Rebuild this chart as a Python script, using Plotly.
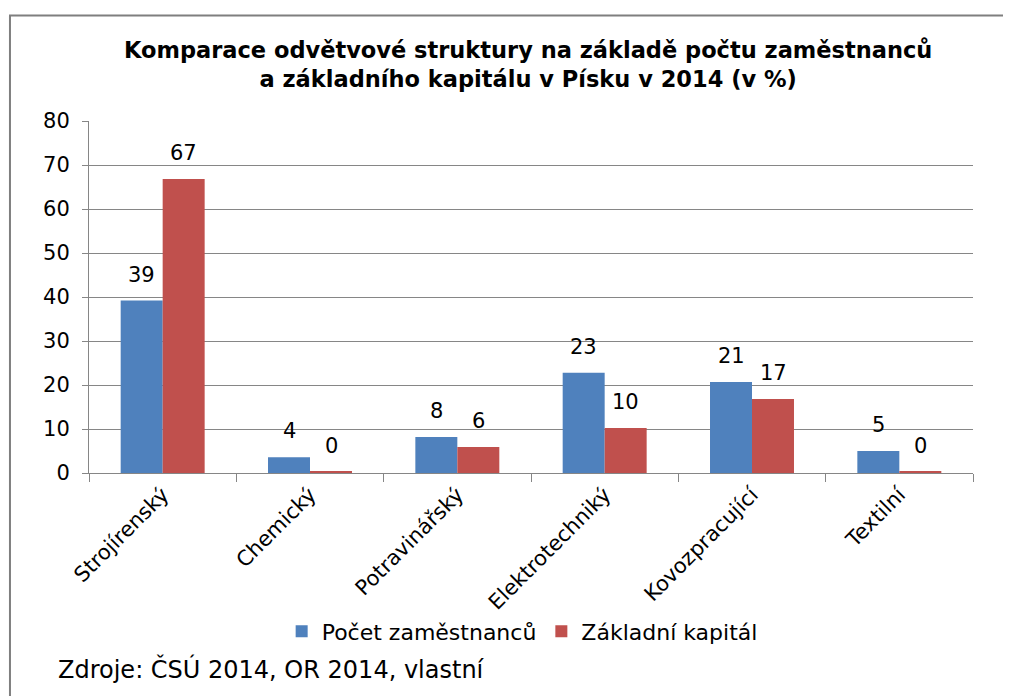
import plotly.graph_objects as go

categories = ["Strojírenský", "Chemický", "Potravinářský", "Elektrotechniký", "Kovozpracující", "Textilní"]
pocet_zamestnancu = [39.2, 3.6, 8.2, 22.8, 20.7, 5.0]
zakladni_kapital = [66.8, 0.3, 5.9, 10.2, 16.8, 0.3]
y_ticks = [0, 10, 20, 30, 40, 50, 60, 70, 80]

BLUE = "#4F81BD"
RED = "#C0504D"
TXT = "#000000"
FONT = "DejaVu Sans"

fig = go.Figure()
fig.add_trace(go.Bar(name="Počet zaměstnanců", x=categories, y=pocet_zamestnancu,
                     marker=dict(color=BLUE, line=dict(width=0))))
fig.add_trace(go.Bar(name="Základní kapitál", x=categories, y=zakladni_kapital,
                     marker=dict(color=RED, line=dict(width=0))))

annotations = []
for i, c in enumerate(categories):
    for vals, xs in ((pocet_zamestnancu, -21), (zakladni_kapital, 21)):
        annotations.append(dict(x=c, y=vals[i], xref="x", yref="y", text=f"{vals[i]:.0f}",
                                showarrow=False, xshift=xs, yshift=12, yanchor="bottom",
                                font=dict(family=FONT, size=21, color=TXT)))

annotations.append(dict(xref="paper", yref="paper", x=0.497, y=1.16, xanchor="center", yanchor="middle",
                        text="<b>Komparace odvětvové struktury na základě počtu zaměstnanců<br>a základního kapitálu v Písku v 2014 (v %)</b>",
                        showarrow=False, font=dict(family=FONT, size=22.5, color=TXT)))
annotations.append(dict(xref="paper", yref="paper", x=-0.0373, y=-0.558, xanchor="left", yanchor="middle",
                        text="Zdroje: ČSÚ 2014, OR 2014, vlastní", showarrow=False,
                        font=dict(family=FONT, size=24, color=TXT)))

fig.update_layout(
    width=1011, height=696,
    margin=dict(l=81, r=46, t=113, b=231),
    paper_bgcolor="white", plot_bgcolor="white",
    barmode="group", bargap=0.43, bargroupgap=0,
    legend=dict(orientation="h", x=0.49, xanchor="center", y=-0.45, yanchor="middle",
                font=dict(family=FONT, size=22, color=TXT), itemclick=False,
                bgcolor="rgba(0,0,0,0)", traceorder="normal", itemwidth=30),
    showlegend=True,
    annotations=annotations,
    shapes=[dict(type="rect", xref="paper", yref="paper", x0=-0.0894, x1=1.2, y0=-0.7, y1=1.30,
                 line=dict(color="#7F7F7F", width=2), fillcolor="rgba(0,0,0,0)", layer="below")],
)
fig.update_xaxes(showline=True, linecolor="#868686", linewidth=1, ticks="outside", tickson="boundaries",
                 ticklen=8, tickcolor="#868686", tickangle=-45,
                 tickfont=dict(family=FONT, size=21, color=TXT), showgrid=False)
fig.update_yaxes(range=[0, 80], tickvals=y_ticks, showline=True, linecolor="#868686", linewidth=1,
                 ticks="outside", ticklen=6, tickcolor="#868686", gridcolor="#868686", gridwidth=1,
                 zeroline=False, ticklabelstandoff=8, tickfont=dict(family=FONT, size=21, color=TXT))

fig.write_html("out.html")
